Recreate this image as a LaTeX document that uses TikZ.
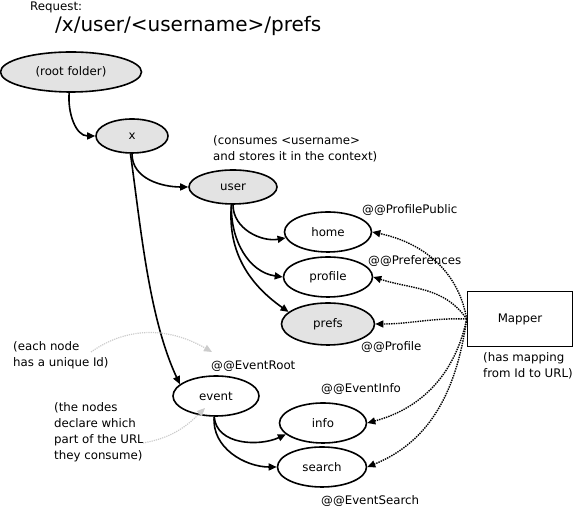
\documentclass[tikz,border=0pt]{standalone}
\usepackage{fontspec}
\setmainfont{DejaVu Sans}
\usetikzlibrary{arrows.meta,shapes.geometric}

\begin{document}
\begin{tikzpicture}[x=1pt,y=1pt,font=\fontsize{11.8}{16}\selectfont,
		nd/.style={ellipse,draw,line width=1.6pt,inner sep=0pt,minimum height=40pt,minimum width=#1},
		used/.style={fill=gray!22},
		lbl/.style={anchor=west,inner sep=0pt,align=left},
		treeln/.style={line width=1.6pt,-{Triangle[length=8pt,width=7pt]}},
		idln/.style={line width=1.4pt,densely dotted,-{Triangle[length=8pt,width=7pt]}},
		hintln/.style={gray!40,line width=1.2pt,densely dotted,-{Triangle[length=8pt,width=7pt]}}]
			\useasboundingbox (0,0) rectangle (574,513);
			\node[anchor=base west,inner sep=0pt] (req) at (30,502) {Request:};
			\node[anchor=base west,inner sep=0pt,font=\fontsize{20}{24}\selectfont] (url) at (55,481) {/x/user/<username>/prefs};
			% folder tree
			\node[nd=141pt,used] (root) at (71,441) {(root folder)};
			\node[nd=72pt,used,minimum height=34pt] (x) at (132,377) {x};
			\node[nd=88pt,used,minimum height=34pt] (user) at (233,326) {user};
			\node[nd=87pt] (home) at (328,281) {home};
			\node[nd=89pt] (profile) at (328,236) {profile};
			\node[nd=93pt,used,minimum height=42pt] (prefs) at (328,189) {prefs};
			\node[nd=86pt] (event) at (216,117) {event};
			\node[nd=87pt] (info) at (323,90) {info};
			\node[nd=89pt] (search) at (322,46) {search};
			\node[draw,line width=1.6pt,minimum width=105pt,minimum height=55pt] (mapper) at (520,194) {Mapper};
			% ids and notes
			\node[lbl] (pp) at (362,303) {@@ProfilePublic};
			\node[lbl] (pref) at (368,252) {@@Preferences};
			\node[lbl] (prof) at (361,166) {@@Profile};
			\node[lbl] (eroot) at (211,147) {@@EventRoot};
			\node[lbl] (einfo) at (321,124) {@@EventInfo};
			\node[lbl] (esearch) at (321,12) {@@EventSearch};
			\node[lbl] (consume) at (213,364.5) {(consumes <username>\\and stores it in the context)};
			\node[lbl] (mapnote) at (483,147.5) {(has mapping\\from Id to URL)};
			\node[lbl] (idnote) at (13,157.5) {(each node\\has a unique Id)};
			\node[lbl] (partnote) at (54,81) {(the nodes\\declare which\\part of the URL\\they consume)};
			\draw[treeln] (root.265) to[out=-95,in=180] (x.west);
			\draw[treeln] (x.south) to[out=-90,in=180] (user.west);
			\draw[treeln] (x.265) to[out=-82,in=115,looseness=0.8] (event.162);
			\draw[treeln] (user.south) to[out=-90,in=190] (home.188);
			\draw[treeln] (user.265) to[out=-92,in=172] (profile.west);
			\draw[treeln] (user.265) to[out=-95,in=145] (prefs.163);
			\draw[treeln] (event.265) to[out=-85,in=205] (info.197);
			\draw[treeln] (event.265) to[out=-95,in=180] (search.west);
			\foreach \t/\o/\i in {home/100/-12,profile/125/-18,prefs/178/0,info/-102/15,search/-98/22}
				\draw[idln] (mapper.west) to[out=\o,in=\i] (\t.east);
			\coordinate (idfrom) at (91,161);
			\coordinate (idto) at (212,161);
			\coordinate (partfrom) at (143,70);
			\coordinate (partto) at (205,105);
			\draw[hintln] (idfrom) to[out=35,in=150] (idto);
			\draw[hintln] (partfrom) to[out=10,in=-135] (partto);
		\end{tikzpicture}
\end{document}
